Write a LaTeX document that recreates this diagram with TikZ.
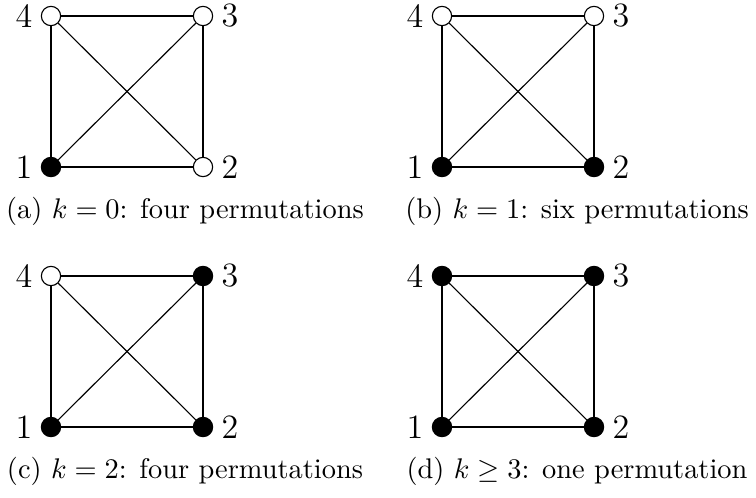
\documentclass[tikz,border=0pt]{standalone}
\tikzset{
  vtx/.style={circle,draw,line width=0.4pt,minimum size=6.8pt,inner sep=0pt,fill=#1},
  vlab/.style={inner sep=0pt,font=\large},
  edge/.style={line width=0.4pt},
  captext/.style={anchor=base,inner sep=0pt}
}
\newcommand\kfourgraph[7]{%
\begin{scope}[shift={(#2,#3)}]
  \node[vtx=#4] (#1v1) at (51,167) {};
  \node[vtx=#5] (#1v2) at (203,167) {};
  \node[vtx=#6] (#1v3) at (203,16) {};
  \node[vtx=#7] (#1v4) at (51,16) {};
  \node[vlab] (#1l1) at (24,167) {1};
  \node[vlab] (#1l2) at (230,167) {2};
  \node[vlab] (#1l3) at (230,16) {3};
  \node[vlab] (#1l4) at (24,16) {4};
  \draw[edge] (#1v1) -- (#1v2);
  \draw[edge] (#1v2) -- (#1v3);
  \draw[edge] (#1v3) -- (#1v4);
  \draw[edge] (#1v4) -- (#1v1);
  \draw[edge] (#1v1) -- (#1v3);
  \draw[edge] (#1v2) -- (#1v4);
\end{scope}}
\begin{document}
\begin{tikzpicture}[x=0.3521pt,y=-0.3521pt]
  \useasboundingbox (0,0) rectangle (756,497);
  \kfourgraph{a}{0}{0}{black}{white}{white}{white}
  \kfourgraph{b}{391}{0}{black}{black}{white}{white}
  \kfourgraph{c}{0}{260}{black}{black}{black}{white}
  \kfourgraph{d}{391}{260}{black}{black}{black}{black}
  \node[captext] (capa) at (185,218) {(a) $k=0$: four permutations};
  \node[captext] (capb) at (577,218) {(b) $k=1$: six permutations};
  \node[captext] (capc) at (185,478) {(c) $k=2$: four permutations};
  \node[captext] (capd) at (577,478) {(d) $k\geq3$: one permutation};
\end{tikzpicture}
\end{document}
